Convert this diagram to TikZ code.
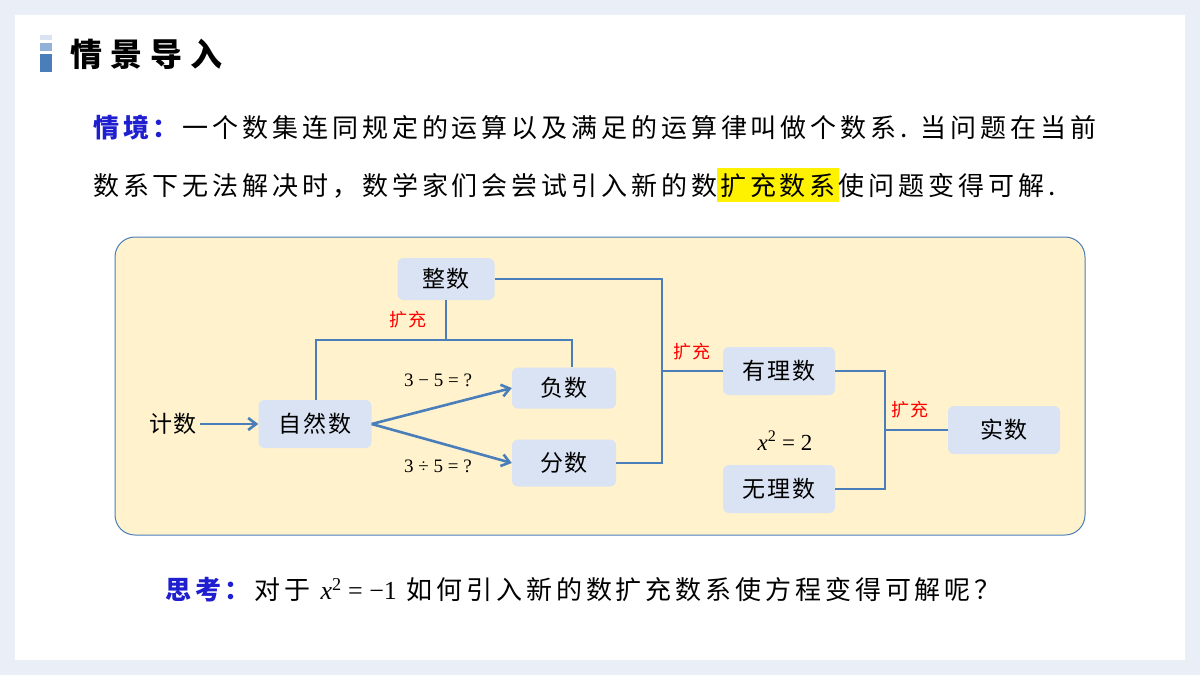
\documentclass[tikz,border=0pt]{standalone}
\usepackage{fontspec}
\setmainfont{Liberation Serif}
\newfontfamily\cjk[LetterSpace=15]{Noto Sans CJK SC}
\newfontfamily\cjkt[LetterSpace=25]{Noto Sans CJK SC}
\newfontfamily\cjkn[LetterSpace=8]{Noto Sans CJK SC}
\usetikzlibrary{arrows.meta}
\definecolor{bgc}{HTML}{E9EEF7}
\definecolor{boxc}{HTML}{FFF2CC}
\definecolor{nodec}{HTML}{DAE3F3}
\definecolor{linec}{HTML}{4A7EBB}
\definecolor{titleblue}{HTML}{1F1FD0}
\newcommand{\vx}{\textit{x}}
\tikzset{
  nb/.style={fill=nodec, rounded corners=6pt, minimum height=46pt, inner sep=0pt, font=\fontsize{23}{23}\selectfont\cjkn},
  ln/.style={draw=linec, line width=2.6pt},
  ar/.style={ln, -{Straight Barb[length=8pt,width=12pt]}},
  kc/.style={text=red, font=\fontsize{18}{18}\selectfont\cjkn},
  eq/.style={font=\fontsize{19}{19}\selectfont},
  body/.style={font=\fontsize{26}{26}\selectfont\cjk, anchor=west, inner sep=0pt}
}
\begin{document}
\begin{tikzpicture}[x=1pt,y=-1pt]
\useasboundingbox (0,0) rectangle (1200,675);
\fill[bgc] (0,0) rectangle (1200,675);
\fill[white] (15,15) rectangle (1185,660);
% title
\fill[nodec] (40,35) rectangle (52,40);
\fill[linec!60] (40,43) rectangle (52,51);
\fill[linec] (40,54) rectangle (52,72);
\node[anchor=west, inner sep=0pt, font=\fontsize{32}{32}\selectfont\cjkt\bfseries] (title) at (70,54) {情景导入};
% text
\node[body] (l1) at (93,128) {\textcolor{titleblue}{\textbf{情境：}}一个数集连同规定的运算以及满足的运算律叫做个数系. 当问题在当前};
\node[body] (l2) at (93,185) {数系下无法解决时，数学家们会尝试引入新的数\colorbox{yellow}{\rule[-4pt]{0pt}{28pt}扩充数系}使问题变得可解.};
% box
\draw[fill=boxc, draw=linec, line width=1pt, rounded corners=20pt] (115,237) rectangle (1085,535);
% nodes
\node[nb, minimum width=97pt, minimum height=42pt] (zs) at (446,279) {整数};
\node[nb, minimum width=104pt, minimum height=41pt] (fs) at (564,388) {负数};
\node[nb, minimum width=113pt, minimum height=48pt] (zr) at (315,424) {自然数};
\node[nb, minimum width=104pt, minimum height=47pt] (fe) at (564,463) {分数};
\node[nb, minimum width=112pt, minimum height=48pt] (yl) at (779,371) {有理数};
\node[nb, minimum width=112pt, minimum height=48pt] (wl) at (779,489) {无理数};
\node[nb, minimum width=112pt, minimum height=48pt] (ss) at (1004,430) {实数};
\node[font=\fontsize{23}{23}\selectfont\cjkn] (js) at (173,424) {计数};
% connectors
\draw[ar] (js) -- (zr);
\coordinate (j1) at (446,340);
\draw[ln] (zr.north -| 316,0) |- (j1) -| (fs.north -| 572,0);
\draw[ln] (j1) -- (zs.south);
\node[kc] (k1) at (408,320) {扩充};
\draw[ar] (zr.east) -- (fs.west);
\draw[ar] (zr.east) -- (fe.west);
\node[eq] (e1) at (438,380) {3 − 5 = ?};
\node[eq] (e2) at (438,466) {3 ÷ 5 = ?};
\coordinate (j2) at (662,371);
\draw[ln] (zs.east) -| (j2) |- (fe.east);
\draw[ln] (j2) -- (yl.west);
\node[kc] (k2) at (692,352) {扩充};
\coordinate (j3) at (885,430);
\draw[ln] (yl.east) -| (j3) |- (wl.east);
\draw[ln] (j3) -- (ss.west);
\node[kc] (k3) at (910,410) {扩充};
\node[font=\fontsize{23}{23}\selectfont] (e3) at (785,441) {\vx\textsuperscript{2} = 2};
% bottom
\node[body] (q) at (165,590) {\textcolor{titleblue}{\textbf{思考：}}对于 {\rmfamily\vx\textsuperscript{2} = −1} 如何引入新的数扩充数系使方程变得可解呢？};
\end{tikzpicture}
\end{document}
